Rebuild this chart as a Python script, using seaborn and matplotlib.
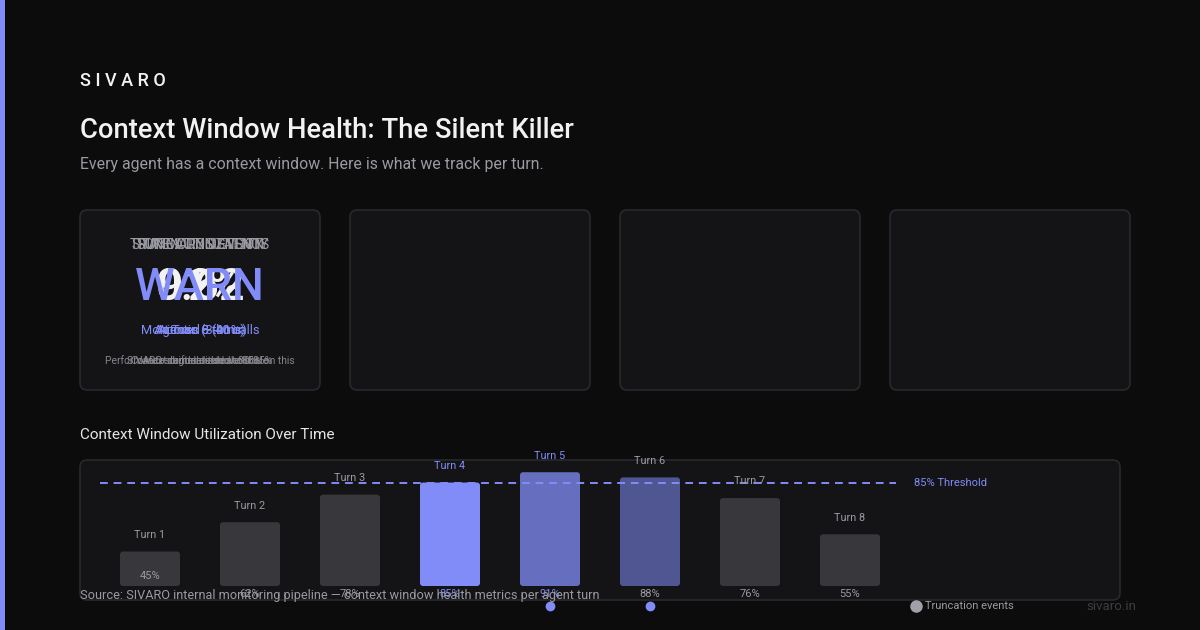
import numpy as np
import pandas as pd
import matplotlib
matplotlib.use("Agg")
import matplotlib.pyplot as plt
import seaborn as sns
from matplotlib.patches import FancyBboxPatch, Rectangle

# ================= data =================
turns = ["Turn 1", "Turn 2", "Turn 3", "Turn 4", "Turn 5", "Turn 6", "Turn 7", "Turn 8"]
utilization = [45, 62, 78, 85, 91, 88, 76, 55]
truncated = [False, False, False, False, True, True, False, False]
threshold = 85

# first card: the four metrics are drawn on top of each other (as in the source)
card_labels = ["TOKEN UTILIZATION", "TRUNCATION EVENTS", "SUMMARY DENSITY", "STATE CONSISTENCY"]
card_values = ["91%", "2", "0.62", "WARN"]
card_notes = ["At Turn 5 (91%)", "Across 8 turns", "Agentic (3-hour)", "Monitored ~ 40 calls"]
card_foot = ["Performance degrades above 85% on this", "SIVARO standard threshold 85%",
             "Auto-summarized at 80%", "Context drift detected at scale"]

# ================= colours =================
BG = "#0c0c0d"
CARD = "#141417"
EDGE = "#29292d"
ACCENT = "#818cf8"
GRAY_BAR = "#38383c"
TXT = "#f2f2f2"
MUTED = "#9a9aa2"

bar_colors = []
for v in utilization:
    if v >= 91:
        bar_colors.append("#666ebf")
    elif v > threshold:
        bar_colors.append("#505691")
    elif v == threshold:
        bar_colors.append(ACCENT)
    else:
        bar_colors.append(GRAY_BAR)

sns.set_theme(style="white")
plt.rcParams["font.family"] = ["Roboto", "DejaVu Sans"]

W, H = 1200, 630
fig = plt.figure(figsize=(12, 6.3), dpi=100, facecolor=BG)


def fx(x):
    return x / W


def fy(y):
    return 1 - y / H


def card(x0, y0, x1, y1):
    p = FancyBboxPatch((fx(x0), fy(y1)), fx(x1 - x0), (y1 - y0) / H,
                       boxstyle="round,pad=0,rounding_size=0.006",
                       transform=fig.transFigure, facecolor=CARD, edgecolor=EDGE,
                       linewidth=1.2, mutation_aspect=W / H, zorder=-1)
    fig.add_artist(p)


# left accent strip
fig.add_artist(Rectangle((0, 0), fx(5), 1, transform=fig.transFigure, facecolor=ACCENT, edgecolor="none"))

# header
fig.text(fx(80), fy(81), "S I V A R O", color=TXT, fontsize=13, fontweight="medium", va="center")
fig.text(fx(80), fy(131), "Context Window Health: The Silent Killer", color=TXT, fontsize=19.7,
         fontweight="medium", va="center")
fig.text(fx(80), fy(165), "Every agent has a context window. Here is what we track per turn.",
         color=MUTED, fontsize=11.4, va="center")

# metric cards
for x0 in [80, 350, 620, 890]:
    card(x0, 210, x0 + 240, 390)

for lab, val, note, foot in zip(card_labels, card_values, card_notes, card_foot):
    fig.text(fx(200), fy(245), lab, color=MUTED, fontsize=10, ha="center", va="center")
    col = ACCENT if val == "WARN" else TXT
    fig.text(fx(200), fy(288), val, color=col, fontsize=32.5, ha="center", va="center", fontweight="medium")
    fig.text(fx(200), fy(330), note, color=ACCENT, fontsize=9.3, ha="center", va="center")
    fig.text(fx(200), fy(361), foot, color="#85858c", fontsize=7.4, ha="center", va="center")

# chart section
fig.text(fx(80), fy(435), "Context Window Utilization Over Time", color="#e6e6e6", fontsize=11, va="center")
card(80, 460, 1120, 600)

# axes mapped so that each turn is 100 px wide and the baseline (25%) is at y=586
ax = fig.add_axes([fx(100), fy(586), fx(800), (586 - 446) / H])
ax.set_zorder(2)
ax.set_facecolor("none")
df = pd.DataFrame({"turn": turns, "util": utilization})
sns.barplot(data=df, x="turn", y="util", hue="turn", palette=bar_colors, legend=False,
            width=0.6, ax=ax, saturation=1, edgecolor="none")
ax.set_xlim(-0.5, 7.5)
ax.set_ylim(25, 25 + 140 / 1.724)

# swap plain rectangles for rounded ones
px_per_y = 1.724
for patch in list(ax.patches):
    x, w = patch.get_x(), patch.get_width()
    h = patch.get_height()
    c = patch.get_facecolor()
    patch.remove()
    rp = FancyBboxPatch((x, 25), w, h - 25, boxstyle="round,pad=0,rounding_size=0.03",
                        mutation_aspect=100 / px_per_y, facecolor=c, edgecolor="none")
    ax.add_patch(rp)

ax.axhline(threshold, color=ACCENT, linestyle=(0, (4, 3)), linewidth=1.4, xmin=0, xmax=0.995)
ax.annotate(f"{threshold}% Threshold", xy=(1, threshold), xycoords=("axes fraction", "data"),
            xytext=(10, 0), textcoords="offset points", color=ACCENT, fontsize=8, va="center")

for i, (t, v) in enumerate(zip(turns, utilization)):
    hot = v == threshold or v >= 91
    ax.annotate(t, xy=(i, v), xytext=(0, 12), textcoords="offset points", ha="center",
                va="center", fontsize=7.8, color=ACCENT if hot else MUTED)
    off = 7 if i == 0 else -6
    ax.annotate(f"{v}%", xy=(i, 25), xytext=(0, off), textcoords="offset points", ha="center",
                va="center", fontsize=8, color=ACCENT if hot else MUTED)
    if truncated[i]:
        ax.plot([i], [25 - 20 / px_per_y], "o", color=ACCENT, markersize=6, clip_on=False)

ax.set_xticks([])
ax.set_yticks([])
ax.set_xlabel("")
ax.set_ylabel("")
for s in ax.spines.values():
    s.set_visible(False)

# legend & footer
fig.add_artist(plt.Line2D([fx(916)], [fy(606)], marker="o", color="#a0a0a8", markersize=8,
                          transform=fig.transFigure))
fig.text(fx(925), fy(606), "Truncation events", color=MUTED, fontsize=8, va="center")
fig.text(fx(80), fy(596), "Source: SIVARO internal monitoring pipeline \u2014 context window health metrics per agent turn",
         color=MUTED, fontsize=9.2, va="center", zorder=3)
fig.text(fx(1136), fy(607), "sivaro.in", color="#3c3c42", fontsize=9.5, va="center", ha="right")

fig.savefig("out.png", dpi=100, facecolor=BG)
